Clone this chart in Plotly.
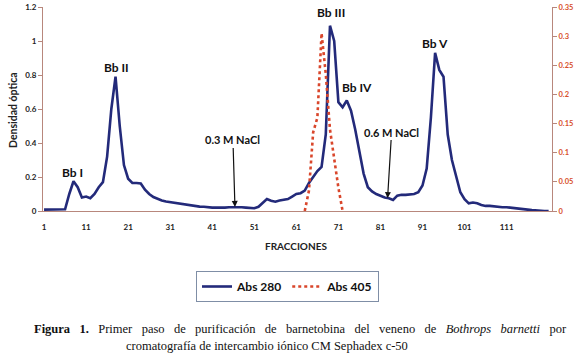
import plotly.graph_objects as go

# ---- data ----
fractions = list(range(1, 122))
abs280 = [
    0.008, 0.008, 0.008, 0.006, 0.006, 0.01, 0.1, 0.175, 0.14, 0.08,
    0.085, 0.075, 0.1, 0.14, 0.17, 0.32, 0.6, 0.79, 0.5, 0.27,
    0.19, 0.165, 0.165, 0.162, 0.125, 0.1, 0.082, 0.07, 0.062, 0.056,
    0.052, 0.047, 0.042, 0.04, 0.036, 0.031, 0.03, 0.026, 0.025, 0.021,
    0.02, 0.02, 0.018, 0.02, 0.022, 0.022, 0.025, 0.022, 0.02, 0.018,
    0.016, 0.025, 0.05, 0.07, 0.06, 0.055, 0.062, 0.068, 0.07, 0.085,
    0.1, 0.105, 0.12, 0.165, 0.2, 0.235, 0.26, 0.45, 1.09, 1.0,
    0.64, 0.61, 0.65, 0.59, 0.48, 0.36, 0.22, 0.14, 0.115, 0.1,
    0.088, 0.08, 0.075, 0.065, 0.09, 0.095, 0.095, 0.096, 0.1, 0.11,
    0.15, 0.25, 0.55, 0.93, 0.83, 0.79, 0.45, 0.3, 0.2, 0.11,
    0.07, 0.045, 0.05, 0.045, 0.035, 0.03, 0.03, 0.026, 0.025, 0.022,
    0.022, 0.02, 0.018, 0.016, 0.012, 0.008, 0.005, 0.002, 0.001, 0.0, 0.0,
]
fractions405 = list(range(63, 73))
abs405 = [0.0, 0.035, 0.135, 0.16, 0.305, 0.235, 0.14, 0.085, 0.04, 0.0]
x_ticks = list(range(1, 112, 10))

peak_labels = ["Bb I", "Bb II", "Bb III", "Bb IV", "Bb V"]
peak_x = [7.8, 18.3, 69.2, 75.4, 94.0]
peak_y = [0.229, 0.847, 1.165, 0.724, 0.988]

nacl_labels = ["0.3 M NaCl", "0.6 M NaCl"]
nacl_x = [46.4, 82.7]
nacl_y = [0.024, 0.076]

caption_line1 = ("<b>Figura 1.</b> Primer paso de purificación de barnetobina del "
                 "veneno de <i>Bothrops barnetti</i> por")
caption_line2 = "cromatografía de intercambio iónico CM Sephadex c-50"

BLUE = "#232a7a"
RED = "#d9462b"
AXIS = "#b8877c"
LBL = "Lato"

fig = go.Figure()
fig.add_trace(go.Scatter(
    x=fractions, y=abs280, mode="lines", name="Abs 280",
    line=dict(color=BLUE, width=2.6), yaxis="y",
))
fig.add_trace(go.Scatter(
    x=fractions405, y=abs405, mode="lines", name="Abs 405",
    line=dict(color=RED, width=2.6, dash="dot"), yaxis="y2",
))

annotations = []
for t, px, py in zip(peak_labels, peak_x, peak_y):
    annotations.append(dict(
        x=px, y=py, xref="x", yref="y", text=t, showarrow=False,
        xanchor="center", yanchor="middle",
        font=dict(family=LBL, size=12, color="#111", weight="bold"),
    ))
for t, px, py, axo, ayo in zip(nacl_labels, nacl_x, nacl_y, [-2, 4], [-67, -66]):
    annotations.append(dict(
        x=px, y=py, xref="x", yref="y", text=t, showarrow=True,
        ax=axo, ay=ayo, arrowhead=2, arrowsize=1, arrowwidth=1.2,
        arrowcolor="#111",
        font=dict(family=LBL, size=11, color="#111", weight="bold"),
    ))

# axis titles and caption (paper coordinates)
L, R, T, B = 43, 28, 7, 145
W, H = 580, 356
pw, ph = W - L - R, H - T - B


def px2paper(xp, yp):
    return (xp - L) / pw, (H - B - yp) / ph


def paper_text(text, xp, yp, font, angle=0):
    xx, yy = px2paper(xp, yp)
    return dict(x=xx, y=yy, xref="paper", yref="paper", text=text,
                showarrow=False, xanchor="center", yanchor="middle",
                textangle=angle, font=font)


annotations.append(paper_text(
    "Densidad óptica", 13, 110,
    dict(family=LBL, size=10.5, color="#222", weight="bold"), angle=-90))
annotations.append(paper_text(
    "FRACCIONES", 296, 246,
    dict(family=LBL, size=10, color="#222", weight="bold")))
# first caption line is justified in the original: widen word gaps
justified = caption_line1.replace(" ", "&nbsp;&nbsp; ")
annotations.append(paper_text(
    justified, 300.5, 328.5,
    dict(family="Liberation Serif", size=12.5, color="#111")))
annotations.append(paper_text(
    caption_line2, 267, 346,
    dict(family="Liberation Serif", size=12.5, color="#111")))

lx, ly = px2paper(196, 271)

fig.update_layout(
    width=W, height=H,
    margin=dict(l=L, r=R, t=T, b=B, autoexpand=False),
    paper_bgcolor="white", plot_bgcolor="white",
    showlegend=True,
    legend=dict(
        orientation="h", x=lx, y=ly, xanchor="left", yanchor="top",
        bordercolor="#7f8ea6", borderwidth=1,
        font=dict(family=LBL, size=12, color="#111", weight="bold"),
        itemwidth=30,
    ),
    xaxis=dict(
        range=[0.75, 121.8], tickvals=x_ticks, showgrid=False, zeroline=False,
        showline=True, linecolor=AXIS, linewidth=1, ticks="",
        tickfont=dict(family=LBL, size=8, color="#222", weight="bold"),
        ticklabelstandoff=8,
    ),
    yaxis=dict(
        range=[0, 1.2], dtick=0.2, showgrid=False, zeroline=False,
        showline=True, linecolor=AXIS, linewidth=1,
        ticks="outside", ticklen=4, tickcolor=AXIS,
        tickfont=dict(family=LBL, size=8, color="#222", weight="bold"),
    ),
    yaxis2=dict(
        range=[0, 0.35], dtick=0.05, overlaying="y", side="right",
        showgrid=False, zeroline=False,
        showline=True, linecolor=AXIS, linewidth=1,
        ticks="outside", ticklen=4, tickcolor=AXIS,
        tickfont=dict(family=LBL, size=7.5, color="#d8502a", weight="bold"),
    ),
    annotations=annotations,
)

fig.write_html(
    "out.html",
    config={"displayModeBar": False},
    post_script="document.body.style.margin='0';document.body.style.padding='0';",
)
